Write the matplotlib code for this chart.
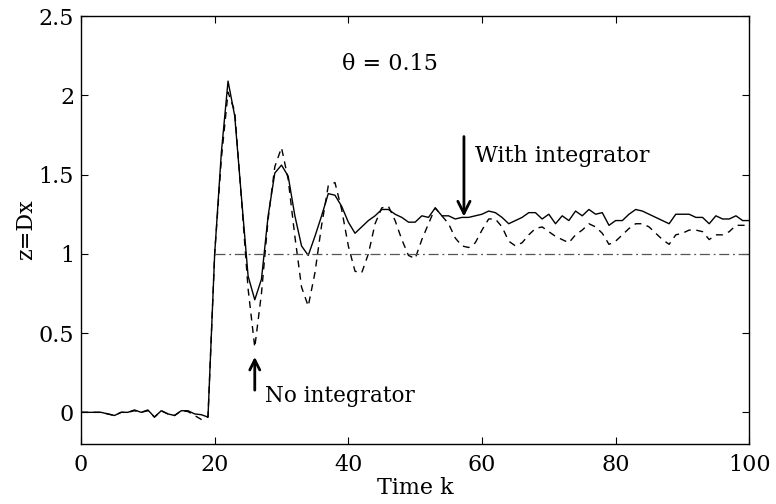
import numpy as np
import matplotlib
matplotlib.use('Agg')
import matplotlib.pyplot as plt

# ── data ───────────────────────────────────────────────────
k = np.arange(0, 101)

with_int = [
    0.00, 0.00, 0.00, 0.00, -0.01, -0.02, 0.00, 0.00, 0.015, 0.00,
    0.015, -0.03, 0.01, -0.01, -0.02, 0.01, 0.01, -0.01, -0.015, -0.03,
    1.00, 1.64, 2.09, 1.87, 1.36, 0.86, 0.71, 0.84, 1.24, 1.51,
    1.56, 1.49, 1.24, 1.05, 0.99, 1.11, 1.24, 1.38, 1.37, 1.30,
    1.20, 1.13, 1.17, 1.21, 1.24, 1.28, 1.28, 1.25, 1.23, 1.20,
    1.20, 1.24, 1.23, 1.29, 1.24, 1.24, 1.22, 1.23, 1.23, 1.24,
    1.25, 1.27, 1.26, 1.23, 1.19, 1.21, 1.23, 1.26, 1.26, 1.22,
    1.25, 1.19, 1.24, 1.21, 1.27, 1.24, 1.28, 1.25, 1.26, 1.18,
    1.21, 1.21, 1.25, 1.28, 1.27, 1.25, 1.23, 1.21, 1.19, 1.25,
    1.25, 1.25, 1.23, 1.23, 1.19, 1.24, 1.22, 1.22, 1.24, 1.21,
    1.21,
]

no_int = [
    0.00, 0.00, 0.00, 0.00, -0.01, -0.02, 0.00, 0.00, 0.01, 0.00,
    0.01, -0.03, 0.01, -0.01, -0.02, 0.01, 0.005, -0.02, -0.045, -0.03,
    1.00, 1.60, 2.02, 1.90, 1.35, 0.78, 0.41, 0.75, 1.22, 1.55,
    1.67, 1.47, 1.11, 0.79, 0.67, 0.88, 1.18, 1.43, 1.45, 1.28,
    1.05, 0.89, 0.88, 1.00, 1.19, 1.29, 1.30, 1.21, 1.09, 0.99,
    0.97, 1.09, 1.19, 1.29, 1.24, 1.19, 1.10, 1.05, 1.04, 1.07,
    1.15, 1.22, 1.22, 1.17, 1.08, 1.05, 1.07, 1.12, 1.16, 1.17,
    1.14, 1.11, 1.09, 1.07, 1.12, 1.15, 1.19, 1.17, 1.13, 1.06,
    1.08, 1.12, 1.16, 1.19, 1.19, 1.17, 1.13, 1.09, 1.06, 1.12,
    1.13, 1.15, 1.15, 1.14, 1.09, 1.12, 1.12, 1.14, 1.18, 1.18,
    1.18,
]

ref_k = [20, 100]
ref_val = [1.0, 1.0]

x_ticks = [0, 20, 40, 60, 80, 100]
y_ticks = [0, 0.5, 1, 1.5, 2, 2.5]
y_ticklabels = ['0', '0.5', '1', '1.5', '2', '2.5']

# ── figure ─────────────────────────────────────────────────
# the reference text is a wide serif, DejaVu Serif matches its extents best
plt.rcParams['font.family'] = ['DejaVu Serif']
FS = 16

fig = plt.figure(figsize=(7.76, 5.04), dpi=100, facecolor='white')
ax = fig.add_axes([0.1044, 0.119, 0.8612, 0.849])

ax.plot(k, with_int, color='black', lw=1.0)
ax.plot(k, no_int, color='black', lw=1.0, ls=(0, (5, 4)))
ax.plot(ref_k, ref_val, color='#555555', lw=0.9, ls=(0, (8, 3, 1.5, 3)))

ax.set_xlim(0, 100)
ax.set_ylim(-0.2, 2.5)
ax.set_xticks(x_ticks)
ax.set_yticks(y_ticks)
ax.set_yticklabels(y_ticklabels)
ax.tick_params(direction='in', length=5, width=0.8, labelsize=FS,
               top=True, right=True)
ax.tick_params(axis='x', pad=7)
ax.tick_params(axis='y', pad=5)
for s in ax.spines.values():
    s.set_linewidth(1.0)

ax.set_xlabel('Time k', fontsize=FS, labelpad=1)
ax.set_ylabel('z=Dx', fontsize=FS, labelpad=1)

ax.text(39.0, 2.2, 'θ = 0.15', fontsize=FS, va='center', ha='left')
ax.text(59, 1.62, 'With integrator', fontsize=FS, va='center', ha='left')
ax.text(27.5, 0.1, 'No integrator', fontsize=FS - 0.5, va='center', ha='left')

ax.annotate('', xy=(57.3, 1.235), xytext=(57.3, 1.74),
            arrowprops=dict(arrowstyle='->', lw=2, color='black',
                            mutation_scale=22, shrinkA=0, shrinkB=0))
ax.annotate('', xy=(26.0, 0.35), xytext=(26.0, 0.14),
            arrowprops=dict(arrowstyle='->', lw=2, color='black',
                            mutation_scale=18, shrinkA=0, shrinkB=0))

fig.savefig('out.png', dpi=100, facecolor='white')
